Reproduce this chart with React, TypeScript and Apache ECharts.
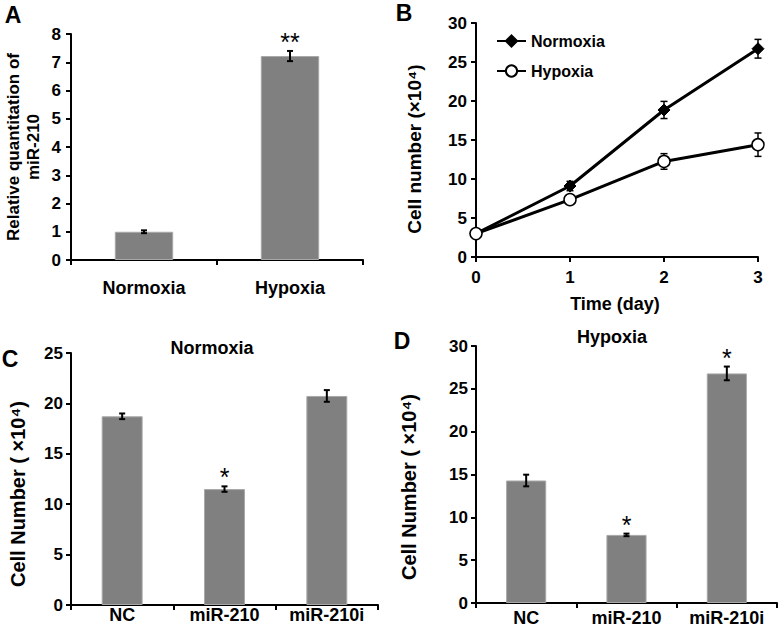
import React, { useEffect, useRef } from "react";
import * as echarts from "echarts";

// ---------- data ----------
const aCategories = ["Normoxia", "Hypoxia"];
const aValues = [1.0, 7.22];
const aErrors = [0.05, 0.18];
const aMarks = ["", "**"];
const aYMax = 8;
const aYStep = 1;

const bDays = [0, 1, 2, 3];
const bNormoxia = [3.0, 9.1, 18.85, 26.7];
const bNormoxiaErr = [0.3, 0.6, 1.1, 1.2];
const bHypoxia = [3.0, 7.35, 12.25, 14.4];
const bHypoxiaErr = [0.3, 0.6, 1.0, 1.5];
const bYMax = 30;
const bYStep = 5;

const groupCategories = ["NC", "miR-210", "miR-210i"];
const cValues = [18.72, 11.5, 20.74];
const cErrors = [0.28, 0.27, 0.58];
const cMarks = ["", "*", ""];
const cYMax = 25;
const cYStep = 5;

const dValues = [14.3, 7.95, 26.8];
const dErrors = [0.68, 0.15, 0.8];
const dMarks = ["", "*", "*"];
const dYMax = 30;
const dYStep = 5;

// ---------- styling helpers ----------
const FONT = "'Liberation Sans', Arial, Helvetica, sans-serif";
const BAR = "#808080";

const axisLine = { show: true, lineStyle: { color: "#000", width: 2 } };
const axisTick = { show: true, length: 5, lineStyle: { color: "#000", width: 2 } };

const catAxis = (gridIndex: number, data: string[], margin: number) => ({
  type: "category",
  gridIndex,
  data,
  axisLine,
  axisTick: { ...axisTick, alignWithLabel: false },
  axisLabel: { color: "#000", fontWeight: "bold", fontSize: 18, fontFamily: FONT, margin },
  splitLine: { show: false },
});

const valAxis = (gridIndex: number, max: number, interval: number, margin: number) => ({
  type: "value",
  gridIndex,
  min: 0,
  max,
  interval,
  axisLine,
  axisTick,
  axisLabel: { color: "#000", fontWeight: "bold", fontSize: 17, fontFamily: FONT, margin },
  splitLine: { show: false },
});

const errorRender = (cap: number, lw: number) => (_params: any, api: any) => {
  const x = api.value(0);
  const v = api.value(1);
  const e = api.value(2);
  const top = api.coord([x, v + e]);
  const bot = api.coord([x, v - e]);
  const style = { stroke: "#000", lineWidth: lw };
  return {
    type: "group",
    children: [
      { type: "line", shape: { x1: top[0], y1: top[1], x2: bot[0], y2: bot[1] }, style },
      { type: "line", shape: { x1: top[0] - cap, y1: top[1], x2: top[0] + cap, y2: top[1] }, style },
      { type: "line", shape: { x1: bot[0] - cap, y1: bot[1], x2: bot[0] + cap, y2: bot[1] }, style },
    ],
  };
};

const markRender = (marks: string[]) => (params: any, api: any) => {
  const text = marks[params.dataIndex];
  if (!text) return null;
  const p = api.coord([api.value(0), api.value(1)]);
  return {
    type: "text",
    x: p[0],
    y: p[1] - 9,
    style: {
      text,
      fill: "#000",
      font: `normal 25px ${FONT}`,
      textAlign: "center",
      textVerticalAlign: "middle",
      align: "center",
      verticalAlign: "middle",
    },
  };
};

const barSeries = (idx: number, values: number[], errors: number[], marks: string[]) => [
  {
    type: "bar",
    xAxisIndex: idx,
    yAxisIndex: idx,
    data: values,
    barWidth: "40%",
    itemStyle: { color: BAR, borderColor: "#a8a8a8", borderWidth: 1 },
    z: 2,
  },
  {
    type: "custom",
    xAxisIndex: idx,
    yAxisIndex: idx,
    renderItem: errorRender(3, 2),
    data: values.map((v, i) => [i, v, errors[i]]),
    z: 4,
  },
  {
    type: "custom",
    xAxisIndex: idx,
    yAxisIndex: idx,
    renderItem: markRender(marks),
    data: values.map((v, i) => [i, v + errors[i]]),
    z: 5,
  },
];

const txt = (text: string, x: number, y: number, size: number, rotation = 0, weight = "bold", lineHeight?: number) => ({
  type: "text",
  x,
  y,
  rotation,
  style: {
    text,
    fill: "#000",
    font: `${weight} ${size}px ${FONT}`,
    lineHeight: lineHeight ?? size + 2,
    textAlign: "center",
    textVerticalAlign: "middle",
    align: "center",
    verticalAlign: "middle",
  },
});

export default function App() {
  const ref = useRef<HTMLDivElement>(null);

  useEffect(() => {
    if (!ref.current) return;
    const chart = echarts.init(ref.current, null, { renderer: "svg" });

    const option: any = {
      animation: false,
      backgroundColor: "#fff",
      grid: [
        { left: 71, top: 34, width: 292, height: 226 },
        { left: 476, top: 23, width: 282, height: 234 },
        { left: 71, top: 353, width: 307, height: 252 },
        { left: 476, top: 346, width: 301, height: 257 },
      ],
      xAxis: [
        catAxis(0, aCategories, 19),
        {
          type: "value",
          gridIndex: 1,
          min: bDays[0],
          max: bDays[bDays.length - 1],
          interval: 1,
          axisLine,
          axisTick,
          axisLabel: { color: "#000", fontWeight: "bold", fontSize: 17, fontFamily: FONT, margin: 12 },
          splitLine: { show: false },
        },
        catAxis(2, groupCategories, 1),
        catAxis(3, groupCategories, 6),
      ],
      yAxis: [
        valAxis(0, aYMax, aYStep, 10),
        valAxis(1, bYMax, bYStep, 9),
        valAxis(2, cYMax, cYStep, 8),
        valAxis(3, dYMax, dYStep, 8),
      ],
      legend: {
        left: 491,
        top: 28,
        orient: "vertical",
        itemWidth: 29,
        itemHeight: 14,
        itemGap: 14,
        data: ["Normoxia", "Hypoxia"],
        textStyle: { color: "#000", fontWeight: "bold", fontSize: 16, fontFamily: FONT, lineHeight: 16 },
      },
      series: [
        ...barSeries(0, aValues, aErrors, aMarks),
        {
          type: "custom",
          xAxisIndex: 1,
          yAxisIndex: 1,
          renderItem: errorRender(3.5, 1.5),
          data: bDays.map((d, i) => [d, bNormoxia[i], bNormoxiaErr[i]]),
          z: 1,
        },
        {
          type: "custom",
          xAxisIndex: 1,
          yAxisIndex: 1,
          renderItem: errorRender(3.5, 1.5),
          data: bDays.map((d, i) => [d, bHypoxia[i], bHypoxiaErr[i]]),
          z: 1,
        },
        {
          name: "Normoxia",
          type: "line",
          xAxisIndex: 1,
          yAxisIndex: 1,
          data: bDays.map((d, i) => [d, bNormoxia[i]]),
          symbol: "diamond",
          symbolSize: 12,
          lineStyle: { color: "#000", width: 3 },
          itemStyle: { color: "#000", borderColor: "#000", borderWidth: 1 },
          z: 3,
        },
        {
          name: "Hypoxia",
          type: "line",
          xAxisIndex: 1,
          yAxisIndex: 1,
          data: bDays.map((d, i) => [d, bHypoxia[i]]),
          symbol: "circle",
          symbolSize: 12,
          lineStyle: { color: "#000", width: 3 },
          itemStyle: { color: "#fff", borderColor: "#000", borderWidth: 1.5 },
          z: 4,
        },
        ...barSeries(2, cValues, cErrors, cMarks),
        ...barSeries(3, dValues, dErrors, dMarks),
      ],
      graphic: [
        txt("A", 13, 15, 23),
        txt("B", 404, 13, 23),
        txt("C", 10, 359, 23),
        txt("D", 402, 341, 23),
        txt("Normoxia", 212, 348, 18),
        txt("Hypoxia", 612, 337, 18),
        txt("Relative quantitation of\nmiR-210", 23, 147, 17, Math.PI / 2, "bold", 20),
        txt("Cell number (×10⁴)", 414, 149, 19, Math.PI / 2),
        txt("Time (day)", 615, 304, 18),
        txt("Cell Number ( ×10⁴)", 18, 494, 20, Math.PI / 2),
        txt("Cell Number ( ×10⁴)", 409, 487, 20, Math.PI / 2),
      ],
    };

    chart.setOption(option);
    return () => chart.dispose();
  }, []);

  return (
    <div
      ref={ref}
      style={{ position: "absolute", left: 0, top: 0, width: 784, height: 634, background: "#fff" }}
    />
  );
}
